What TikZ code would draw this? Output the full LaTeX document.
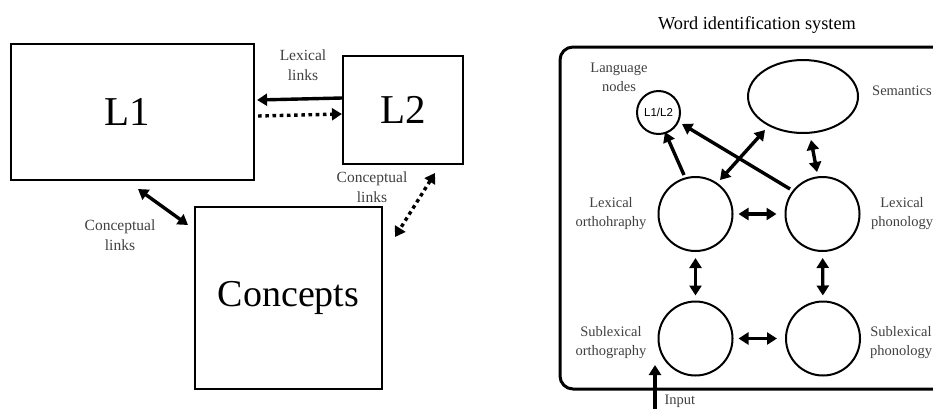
\documentclass[tikz,border=0pt]{standalone}
\usepackage{fontspec}
\setmainfont{Liberation Serif}
\newfontfamily\sansf{Liberation Sans}
\usetikzlibrary{arrows.meta,shapes.geometric}
\begin{document}
\begin{tikzpicture}[x=1pt,y=-1pt,
 box/.style={draw,line width=2.2pt,inner sep=0pt},
 big/.style={font=\fontsize{41}{44}\selectfont},
 lbl/.style={align=center,text=black!75,font=\fontsize{15.5}{20}\selectfont},
 rlbl/.style={align=center,text=black!75,font=\fontsize{14.5}{19}\selectfont},
 circ/.style={draw,circle,line width=2pt,minimum size=74pt,inner sep=0pt},
 arr/.style={line width=3.4pt,-{Triangle[length=10pt,width=12pt]}},
 darr/.style={line width=3.4pt,{Triangle[length=10pt,width=12pt]}-{Triangle[length=10pt,width=12pt]}},
 dots/.style={dash pattern=on 3.6pt off 3.6pt}
]
\path[use as bounding box,clip] (0,0) rectangle (933,408);
\fill[white] (0,0) rectangle (933,408);
% ---------- left panel ----------
\node[box,minimum width=243pt,minimum height=136pt,big] (L1) at (132.5,112) {L1\kern10pt};
\node[box,minimum width=120pt,minimum height=108pt,big] (L2) at (403,110) {L2};
\node[box,minimum width=187pt,minimum height=182pt,font=\fontsize{38}{42}\selectfont] (C) at (288.5,298) {Concepts};
\node[lbl] (lexl) at (303,65) {Lexical\\links};
\node[lbl] (cl1) at (120,235) {Conceptual\\links};
\node[lbl] (cl2) at (372,187) {Conceptual\\links};
\draw[arr] ([yshift=12pt]L2.west) -- ([yshift=12pt,xshift=2pt]L1.east);
\draw[arr,dots] ([yshift=-4pt,xshift=3pt]L1.east) -- ([yshift=-4pt]L2.west);
\coordinate (a1) at (138,189);
\coordinate (a2) at (188,225);
\draw[darr] (a1) -- (a2);
\coordinate (b1) at (435,173);
\coordinate (b2) at (395,237);
\draw[darr,dots] (b1) -- (b2);
% ---------- right panel ----------
\node[font=\fontsize{18.3}{20}\selectfont] (title) at (757,25) {Word identification system};
\draw[line width=3pt,rounded corners=13pt] (960,47) -- (560,47) -- (560,389) -- (960,389);
\node[draw,circle,line width=2pt,minimum size=43pt,inner sep=0pt,font=\sansf\fontsize{11.5}{12}\selectfont] (ln) at (658.5,112.5) {L1/L2};
\node[draw,ellipse,line width=2pt,minimum width=110pt,minimum height=73pt] (sem) at (803,96.5) {};
\node[circ] (lo) at (695.5,214) {};
\node[circ] (lp) at (822.5,214) {};
\node[circ] (so) at (695.5,338.5) {};
\node[circ] (sp) at (823,338.5) {};
\node[rlbl] (tln) at (619,77) {Language\\nodes};
\node[rlbl] (tsem) at (902,91) {Semantics};
\node[rlbl] (tlo) at (611,213.5) {Lexical\\orthohraphy};
\node[rlbl] (tlp) at (902,213.5) {Lexical\\phonology};
\node[rlbl] (tso) at (611,343) {Sublexical\\orthography};
\node[rlbl] (tsp) at (901,343) {Sublexical\\phonology};
\draw[darr,shorten <=5pt,shorten >=8pt] (lo) -- (lp);
\draw[darr,shorten <=5pt,shorten >=8pt] (so) -- (sp);
\draw[darr,shorten <=6pt,shorten >=5pt] (lo) -- (so);
\draw[darr,shorten <=6pt,shorten >=5pt] (lp) -- (sp);
\coordinate (c1) at (684,175);
\coordinate (c2) at (665,132);
\draw[arr] (c1) -- (c2);
\coordinate (d1) at (790,189);
\coordinate (d2) at (682,124);
\draw[arr] (d1) -- (d2);
\coordinate (e1) at (720,180);
\coordinate (e2) at (765,130);
\draw[darr] (e1) -- (e2);
\coordinate (f1) at (811,140);
\coordinate (f2) at (817,172);
\draw[darr] (f1) -- (f2);
\coordinate (g1) at (655,415);
\coordinate (g2) at (655,365);
\draw[arr] (g1) -- (g2);
\node[rlbl,anchor=west] (tin) at (661,401) {Input};
\end{tikzpicture}
\end{document}
